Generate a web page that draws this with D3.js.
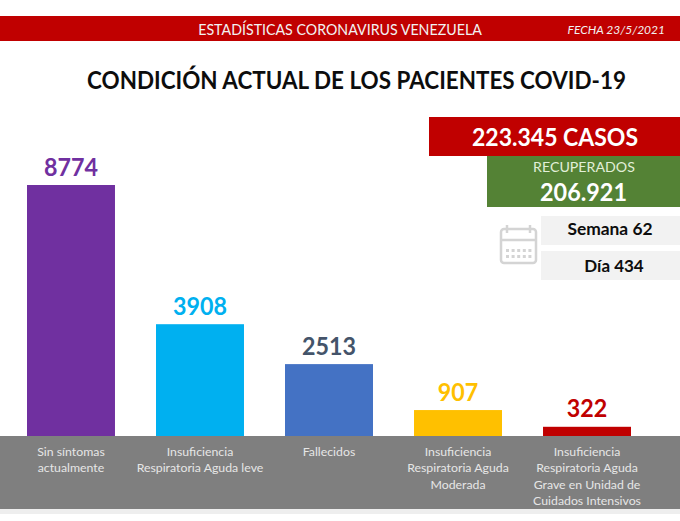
<!DOCTYPE html>
<html>
<head>
<meta charset="utf-8">
<script src="https://cdnjs.cloudflare.com/ajax/libs/d3/7.8.5/d3.min.js"></script>
<style>
  html, body { margin: 0; padding: 0; background: #fff; }
  svg { display: block; font-family: Lato, "Open Sans", sans-serif; }
</style>
</head>
<body>
<svg id="chart" width="680" height="521"></svg>
<script>
const categories = [
  ["Sin síntomas", "actualmente"],
  ["Insuficiencia", "Respiratoria Aguda leve"],
  ["Fallecidos"],
  ["Insuficiencia", "Respiratoria Aguda", "Moderada"],
  ["Insuficiencia", "Respiratoria Aguda", "Grave en Unidad de", "Cuidados Intensivos"]
];
const values = [8774, 3908, 2513, 907, 322];
const barColors = ["#7030a0", "#00b0f0", "#4472c4", "#ffc000", "#c00000"];
const labelColors = ["#7030a0", "#00b0f0", "#44546a", "#ffc000", "#c00000"];

const svg = d3.select("#chart");
const baseY = 436;

const x = d3.scaleBand().domain(d3.range(values.length)).range([27, 631]).paddingInner(0.318);
const y = d3.scaleLinear().domain([0, 8774]).range([baseY, 185]);

// Lato runs wider than the original's font: narrow a centred text to the measured width
function squeeze(sel, cx, cy, w) {
  const sx = w / sel.node().getComputedTextLength();
  return sel.attr("text-anchor", "middle")
    .attr("transform", `translate(${cx},${cy}) scale(${sx},1)`);
}

// header band
svg.append("rect").attr("x", 0).attr("y", 16).attr("width", 680).attr("height", 25).attr("fill", "#c00000");
squeeze(svg.append("text").attr("fill", "#f2f2f2").attr("font-size", 15.5)
  .text("ESTADÍSTICAS CORONAVIRUS VENEZUELA"), 340, 35, 284);
svg.append("text").attr("x", 665).attr("y", 34).attr("text-anchor", "end")
  .attr("fill", "#f2f2f2").attr("font-size", 12).attr("font-style", "italic").text("FECHA 23/5/2021");

squeeze(svg.append("text").attr("fill", "#0d0d0d").attr("font-size", 25).attr("font-weight", 700)
  .text("CONDICIÓN ACTUAL DE LOS PACIENTES COVID-19"), 356.5, 89, 539);

// grey footer under the bars
svg.append("rect").attr("x", 0).attr("y", baseY).attr("width", 680).attr("height", 73).attr("fill", "#7f7f7f");
svg.append("rect").attr("x", 0).attr("y", 509).attr("width", 680).attr("height", 5).attr("fill", "#eeeeee");

svg.selectAll(".bar").data(values).enter().append("rect")
  .attr("class", "bar")
  .attr("x", (d, i) => x(i))
  .attr("y", d => y(d))
  .attr("width", x.bandwidth())
  .attr("height", d => baseY - y(d))
  .attr("fill", (d, i) => barColors[i]);

svg.selectAll(".val").data(values).enter().append("text")
  .attr("class", "val")
  .attr("font-size", 25).attr("font-weight", 700)
  .attr("fill", (d, i) => labelColors[i])
  .text(d => d)
  .each(function(d, i) {
    squeeze(d3.select(this), x(i) + x.bandwidth() / 2, y(d) - 9.5, String(d).length * 13.5);
  });

const cat = svg.selectAll(".cat").data(categories).enter().append("text")
  .attr("class", "cat")
  .attr("text-anchor", "middle")
  .attr("fill", "#e6e6e6").attr("font-size", 12.3);
cat.selectAll("tspan").data((d, i) => d.map(t => ({ t, i }))).enter().append("tspan")
  .attr("x", d => x(d.i) + x.bandwidth() / 2)
  .attr("y", (d, j) => 456 + j * 16.3)
  .text(d => d.t);

// totals box
svg.append("rect").attr("x", 429).attr("y", 117).attr("width", 251).attr("height", 39).attr("fill", "#c00000");
squeeze(svg.append("text").attr("fill", "#fff").attr("font-size", 24.5).attr("font-weight", 700)
  .text("223.345 CASOS"), 555, 146, 166);
svg.append("rect").attr("x", 487).attr("y", 156).attr("width", 193).attr("height", 51).attr("fill", "#548235");
svg.append("text").attr("x", 584).attr("y", 172).attr("text-anchor", "middle")
  .attr("fill", "#e2efd9").attr("font-size", 14.2).text("RECUPERADOS");
squeeze(svg.append("text").attr("fill", "#fff").attr("font-size", 24.5).attr("font-weight", 700)
  .text("206.921"), 583.5, 201, 87);

svg.append("rect").attr("x", 541).attr("y", 216).attr("width", 139).attr("height", 29).attr("fill", "#f2f2f2");
svg.append("rect").attr("x", 541).attr("y", 251).attr("width", 139).attr("height", 29).attr("fill", "#f2f2f2");
svg.append("text").attr("x", 610).attr("y", 235).attr("text-anchor", "middle")
  .attr("fill", "#0d0d0d").attr("font-size", 17.4).attr("font-weight", 700).text("Semana 62");
svg.append("text").attr("x", 614).attr("y", 272).attr("text-anchor", "middle")
  .attr("fill", "#0d0d0d").attr("font-size", 17).attr("font-weight", 700).text("Día 434");

// calendar icon
const icon = svg.append("g").attr("fill", "none").attr("stroke", "#d4d4d4").attr("stroke-width", 2.5);
icon.append("rect").attr("x", 501).attr("y", 229).attr("width", 35).attr("height", 34).attr("rx", 3);
icon.append("line").attr("x1", 501).attr("x2", 536).attr("y1", 240).attr("y2", 240);
icon.append("line").attr("x1", 507).attr("x2", 507).attr("y1", 225).attr("y2", 233);
icon.append("line").attr("x1", 530).attr("x2", 530).attr("y1", 225).attr("y2", 233);
const dots = svg.append("g").attr("fill", "#d4d4d4");
d3.range(5).forEach(c => d3.range(2).forEach(r => {
  dots.append("rect").attr("x", 506 + c * 5.6).attr("y", 249 + r * 6).attr("width", 3).attr("height", 3);
}));
</script>
</body>
</html>
